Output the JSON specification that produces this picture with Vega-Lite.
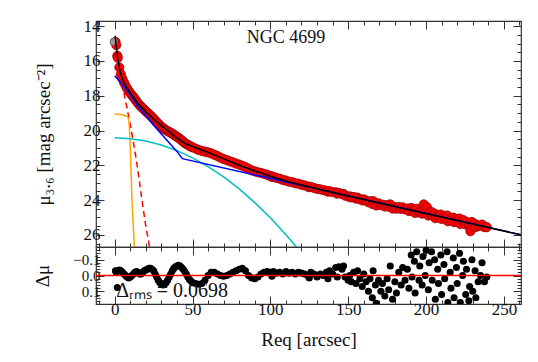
{
"$schema":"https://vega.github.io/schema/vega-lite/v6.json",
"padding":{"left":33,"top":16,"right":16,"bottom":10},
"config":{"view":{"stroke":"#333","strokeWidth":1.2},"font":"Liberation Serif",
"style":{"guide-title":{"font":"Liberation Serif","fontWeight":"normal"},"guide-label":{"font":"Liberation Serif"}},
"axis":{"labelFont":"Liberation Serif","labelFontSize":17,"labelColor":"#111","titleFont":"Liberation Serif","titleFontSize":19,"titleFontWeight":"normal","titleColor":"#111","tickColor":"#333","tickWidth":1,"domain":false,"grid":false,"labelOverlap":false,"labelFlush":false,"labelBound":false,"minExtent":0}},
"datasets":{
"pts":[
{"R":0.5,"mu":14.9,"d":-0.03},{"R":1,"mu":15.08,"d":-0.02},{"R":1.7,"mu":15.7,"d":0.076},{"R":2,"mu":15.82,"d":-0.03},{"R":3,"mu":16.37,"d":-0.035},{"R":4,"mu":16.77,"d":-0.03},{"R":5,"mu":17.03,"d":-0.02},{"R":6,"mu":17.24,"d":-0.01},{"R":7,"mu":17.42,"d":0},{"R":8,"mu":17.58,"d":0.01},{"R":9,"mu":17.72,"d":0.015},{"R":10,"mu":17.84,"d":0.01},{"R":11,"mu":17.96,"d":0},{"R":12,"mu":18.07,"d":-0.01},{"R":13,"mu":18.18,"d":-0.02},{"R":14,"mu":18.31,"d":-0.025},{"R":15,"mu":18.43,"d":-0.02},{"R":16,"mu":18.53,"d":-0.01},{"R":17,"mu":18.63,"d":-0.01},{"R":18,"mu":18.71,"d":-0.02},{"R":19,"mu":18.8,"d":-0.03},{"R":20,"mu":18.89,"d":-0.035},{"R":21,"mu":18.97,"d":-0.04},{"R":22,"mu":19.05,"d":-0.045},{"R":23,"mu":19.14,"d":-0.045},{"R":24,"mu":19.22,"d":-0.04},{"R":25,"mu":19.32,"d":-0.03},{"R":26,"mu":19.41,"d":-0.01},{"R":27,"mu":19.51,"d":0.01},{"R":28,"mu":19.6,"d":0.03},{"R":29,"mu":19.7,"d":0.045},{"R":30,"mu":19.78,"d":0.055},{"R":31,"mu":19.85,"d":0.06},{"R":32,"mu":19.92,"d":0.055},{"R":33,"mu":19.98,"d":0.045},{"R":34,"mu":20.03,"d":0.03},{"R":35,"mu":20.08,"d":0.01},{"R":36,"mu":20.13,"d":-0.01},{"R":37,"mu":20.18,"d":-0.03},{"R":38,"mu":20.24,"d":-0.045},{"R":39,"mu":20.3,"d":-0.055},{"R":40,"mu":20.36,"d":-0.06},{"R":41,"mu":20.42,"d":-0.065},{"R":42,"mu":20.49,"d":-0.06},{"R":43,"mu":20.56,"d":-0.05},{"R":44,"mu":20.64,"d":-0.04},{"R":45,"mu":20.72,"d":-0.025},{"R":46,"mu":20.77,"d":-0.01},{"R":47,"mu":20.82,"d":0.01},{"R":48,"mu":20.88,"d":0.025},{"R":49,"mu":20.92,"d":0.035},{"R":50,"mu":20.97,"d":0.045},
{"R":52,"mu":21.04,"d":0.05},{"R":54,"mu":21.12,"d":0.055},{"R":56,"mu":21.17,"d":0.05},{"R":58,"mu":21.22,"d":0.03},{"R":60,"mu":21.26,"d":0},{"R":62,"mu":21.31,"d":-0.02},{"R":64,"mu":21.39,"d":-0.02},{"R":66,"mu":21.47,"d":-0.01},{"R":68,"mu":21.56,"d":0},{"R":70,"mu":21.64,"d":0.005},{"R":72,"mu":21.7,"d":0},{"R":74,"mu":21.77,"d":-0.01},{"R":76,"mu":21.83,"d":-0.02},{"R":78,"mu":21.9,"d":-0.03},{"R":80,"mu":21.96,"d":-0.04},{"R":82,"mu":22.03,"d":-0.045},{"R":84,"mu":22.1,"d":-0.03},{"R":86,"mu":22.2,"d":0},{"R":88,"mu":22.29,"d":0.015},{"R":90,"mu":22.35,"d":0.02},{"R":92,"mu":22.4,"d":0.01},{"R":94,"mu":22.44,"d":-0.01},{"R":96,"mu":22.49,"d":-0.02},{"R":98,"mu":22.55,"d":-0.025},{"R":100,"mu":22.61,"d":-0.02},{"R":101,"mu":22.67,"d":0.005},{"R":102,"mu":22.66,"d":-0.025},{"R":104,"mu":22.73,"d":-0.015},{"R":106,"mu":22.77,"d":-0.02},{"R":108,"mu":22.84,"d":-0.01},{"R":110,"mu":22.88,"d":-0.025},{"R":112,"mu":22.94,"d":-0.015},{"R":114,"mu":22.97,"d":-0.02},{"R":116,"mu":23.03,"d":-0.01},{"R":118,"mu":23.06,"d":-0.02},{"R":120,"mu":23.12,"d":-0.015},{"R":122,"mu":23.16,"d":-0.01},{"R":124,"mu":23.22,"d":0},{"R":125,"mu":23.26,"d":0.015},{"R":126,"mu":23.24,"d":-0.02},{"R":128,"mu":23.3,"d":-0.01},{"R":130,"mu":23.36,"d":0.01},{"R":132,"mu":23.38,"d":-0.01},{"R":134,"mu":23.43,"d":0},{"R":136,"mu":23.46,"d":-0.02},{"R":137,"mu":23.52,"d":0.02},{"R":138,"mu":23.49,"d":-0.03},{"R":140,"mu":23.55,"d":-0.01},{"R":142,"mu":23.55,"d":-0.05},{"R":143,"mu":23.63,"d":0.01},{"R":144,"mu":23.59,"d":-0.055},{"R":146,"mu":23.65,"d":-0.04},{"R":147,"mu":23.65,"d":-0.06},{"R":148,"mu":23.74,"d":0.01},{"R":150,"mu":23.8,"d":0.03},
{"R":151,"mu":23.79,"d":0},{"R":152,"mu":23.85,"d":0.04},{"R":153.5,"mu":23.82,"d":-0.02},{"R":155,"mu":23.92,"d":0.05},{"R":156,"mu":23.86,"d":-0.03},{"R":157.5,"mu":23.94,"d":0.02},{"R":159,"mu":24.02,"d":0.07},{"R":160,"mu":23.96,"d":-0.01},{"R":161.5,"mu":24.04,"d":0.04},{"R":163,"mu":24.13,"d":0.1},{"R":164,"mu":24.07,"d":0.02},{"R":165.5,"mu":24.22,"d":0.14},{"R":166,"mu":24.06,"d":-0.03},{"R":167.5,"mu":24.18,"d":0.06},{"R":168,"mu":24.31,"d":0.175},{"R":169.5,"mu":24.19,"d":0.03},{"R":171,"mu":24.29,"d":0.1},{"R":172,"mu":24.26,"d":0.05},{"R":173.5,"mu":24.37,"d":0.13},{"R":175,"mu":24.29,"d":0.02},{"R":176,"mu":24.38,"d":0.09},{"R":177,"mu":24.25,"d":-0.06},{"R":178.5,"mu":24.49,"d":0.15},{"R":180,"mu":24.41,"d":0.04},{"R":181,"mu":24.5,"d":0.11},{"R":182.5,"mu":24.4,"d":-0.02},{"R":184,"mu":24.51,"d":0.06},{"R":185,"mu":24.42,"d":-0.05},{"R":186.5,"mu":24.53,"d":0.03},{"R":188,"mu":24.49,"d":-0.04},{"R":189,"mu":24.63,"d":0.08},{"R":190.5,"mu":24.45,"d":-0.13},{"R":191,"mu":24.6,"d":0.01},{"R":192.5,"mu":24.53,"d":-0.09},{"R":193,"mu":24.74,"d":0.11},{"R":194,"mu":24.5,"d":-0.15},{"R":195.5,"mu":24.71,"d":0.03},{"R":196,"mu":24.63,"d":-0.06},{"R":197.5,"mu":24.78,"d":0.06},{"R":198,"mu":24.61,"d":-0.12},{"R":198.5,"mu":24.25,"d":-0.5},{"R":199.5,"mu":24.76,"d":0},{"R":200,"mu":24.61,"d":-0.16},{"R":200.5,"mu":24.4,"d":-0.38},{"R":201.5,"mu":24.89,"d":0.09},{"R":202,"mu":24.73,"d":-0.08},{"R":203.5,"mu":24.69,"d":-0.15},{"R":204,"mu":24.88,"d":0.03},{"R":205.5,"mu":24.78,"d":-0.1},{"R":206,"mu":25.04,"d":0.15},{"R":207.5,"mu":24.88,"d":-0.04},{"R":208,"mu":24.98,"d":0.05},{"R":209.5,"mu":24.83,"d":-0.13},{"R":210,"mu":25.09,"d":0.12},{"R":211.5,"mu":24.93,"d":-0.07},{"R":212,"mu":25.03,"d":0.02},{"R":213.5,"mu":24.89,"d":-0.15},{"R":214,"mu":25.22,"d":0.17},{"R":215.5,"mu":25.06,"d":-0.02},{"R":216,"mu":25.17,"d":0.08},{"R":217.5,"mu":25.01,"d":-0.11},{"R":218,"mu":25.27,"d":0.14},{"R":219.5,"mu":25.11,"d":-0.05},{"R":220,"mu":25.22,"d":0.05},{"R":221.5,"mu":25.06,"d":-0.14},{"R":222,"mu":25.38,"d":0.17},{"R":223.5,"mu":25.24,"d":0},{"R":224,"mu":25.16,"d":-0.09},{"R":225.5,"mu":25.4,"d":0.12},{"R":226,"mu":25.25,"d":-0.04},{"R":227.5,"mu":25.48,"d":0.16},{"R":228,"mu":25.4,"d":0.07},{"R":228.5,"mu":25.79,"d":0.45},{"R":229.5,"mu":25.26,"d":-0.1},{"R":230,"mu":25.47,"d":0.1},{"R":231.5,"mu":25.37,"d":-0.03},{"R":232,"mu":25.55,"d":0.14},{"R":233.5,"mu":25.48,"d":0.04},{"R":235,"mu":25.47,"d":0},{"R":236,"mu":25.41,"d":-0.08},{"R":237.5,"mu":25.56,"d":0.04},{"R":239,"mu":25.56,"d":0.01}
],
"model":[{"R":0.3,"mu":14.55},{"R":1,"mu":15.1},{"R":2,"mu":15.85},{"R":3,"mu":16.4},{"R":4,"mu":16.8},{"R":5,"mu":17.05},{"R":6,"mu":17.25},{"R":7,"mu":17.42},{"R":8,"mu":17.57},{"R":9,"mu":17.7},{"R":10,"mu":17.83},{"R":12,"mu":18.08},{"R":15,"mu":18.45},{"R":20,"mu":18.92},{"R":25,"mu":19.35},{"R":30,"mu":19.72},{"R":35,"mu":20.07},{"R":40,"mu":20.42},{"R":45,"mu":20.74},{"R":50,"mu":20.92},{"R":60,"mu":21.26},{"R":70,"mu":21.63},{"R":80,"mu":22.0},{"R":90,"mu":22.33},{"R":100,"mu":22.63},{"R":110,"mu":22.9},{"R":120,"mu":23.13},{"R":130,"mu":23.35},{"R":150,"mu":23.77},{"R":180,"mu":24.37},{"R":210,"mu":24.97},{"R":240,"mu":25.58},{"R":265,"mu":26.08}],
"blue":[{"R":0,"mu":16.85},{"R":5,"mu":17.35},{"R":10,"mu":17.95},{"R":15,"mu":18.6},{"R":20,"mu":19.15},{"R":25,"mu":19.7},{"R":30,"mu":20.2},{"R":35,"mu":20.7},{"R":40,"mu":21.2},{"R":43.5,"mu":21.62},{"R":265,"mu":26.08}],
"cyan":[{"R":0,"mu":20.42},{"R":10,"mu":20.47},{"R":20,"mu":20.6},{"R":30,"mu":20.83},{"R":40,"mu":21.16},{"R":50,"mu":21.57},{"R":60,"mu":22.08},{"R":70,"mu":22.67},{"R":80,"mu":23.36},{"R":90,"mu":24.15},{"R":100,"mu":25.02},{"R":110,"mu":25.99},{"R":120,"mu":27.04}],
"orange":[{"R":0,"mu":19.05},{"R":4,"mu":19.08},{"R":7,"mu":19.15},{"R":8.6,"mu":19.25},{"R":9.2,"mu":19.5},{"R":9.7,"mu":20.2},{"R":10.1,"mu":21.2},{"R":10.6,"mu":22.6},{"R":11.1,"mu":24.0},{"R":11.9,"mu":25.4},{"R":12.7,"mu":26.7},{"R":13.2,"mu":27.5}],
"dash":[{"R":0,"mu":15.0},{"R":2,"mu":16.1},{"R":4,"mu":17.0},{"R":6,"mu":17.85},{"R":8,"mu":18.75},{"R":10,"mu":19.65},{"R":12,"mu":20.65},{"R":14,"mu":21.75},{"R":16,"mu":23.0},{"R":18,"mu":24.3},{"R":20,"mu":25.5},{"R":22,"mu":26.5},{"R":23,"mu":27.0}]
},
"spacing":0,
"bounds":"flush",
"vconcat":[
{"width":425,"height":226,
"encoding":{"x":{"field":"R","type":"quantitative","scale":{"domain":[-12,261],"nice":false,"zero":false},"axis":null},
"y":{"field":"mu","type":"quantitative","scale":{"domain":[13.7,26.7],"reverse":true,"nice":false,"zero":false},"axis":null}},
"layer":[
{"data":{"name":"pts"},"mark":{"type":"point","shape":"circle","filled":true,"size":85,"fill":"#ff0000","stroke":"#990000","strokeWidth":0.8,"opacity":1,"clip":true},
"encoding":{
"x":{"field":"R","type":"quantitative","scale":{"domain":[-12,261],"nice":false,"zero":false},"axis":{"orient":"bottom","values":[-10,0,10,20,30,40,50,60,70,80,90,100,110,120,130,140,150,160,170,180,190,200,210,220,230,240,250,260],"labels":false,"title":null,"minExtent":0,"tickSize":{"condition":{"test":"datum.value % 50 === 0","value":-8},"value":-4}}},
"y":{"field":"mu","type":"quantitative","scale":{"domain":[13.7,26.7],"reverse":true,"nice":false,"zero":false},"axis":{"orient":"left","title":"μ₃.₆ [mag arcsec⁻²]","titleFont":"Liberation Serif","titlePadding":30,"values":[14,14.5,15,15.5,16,16.5,17,17.5,18,18.5,19,19.5,20,20.5,21,21.5,22,22.5,23,23.5,24,24.5,25,25.5,26,26.5],"format":".0f","labelExpr":"datum.value % 2 === 0 ? datum.label : ''","labelPadding":4,"tickSize":{"condition":{"test":"datum.value % 2 === 0","value":-8},"value":-4}}}}},
{"data":{"values":[{"R":-0.5,"mu":14.9}]},"mark":{"type":"point","shape":"circle","filled":true,"size":60,"fill":"#999999","stroke":"#555555","strokeWidth":0.8,"opacity":1}},
{"data":{"name":"dash"},"mark":{"type":"line","color":"#ff0000","strokeWidth":1.5,"strokeDash":[6,4],"clip":true}},
{"data":{"name":"orange"},"mark":{"type":"line","color":"#ffa500","strokeWidth":1.5,"clip":true}},
{"data":{"name":"cyan"},"mark":{"type":"line","color":"#00bfbf","strokeWidth":1.5,"clip":true}},
{"data":{"name":"blue"},"mark":{"type":"line","color":"#0000ff","strokeWidth":1.5,"clip":true}},
{"data":{"name":"model"},"mark":{"type":"line","color":"#000000","strokeWidth":1.5,"clip":true},
"encoding":{
"x":{"field":"R","type":"quantitative","scale":{"domain":[-12,261],"nice":false,"zero":false},"axis":{"orient":"top","values":[-10,0,10,20,30,40,50,60,70,80,90,100,110,120,130,140,150,160,170,180,190,200,210,220,230,240,250,260],"labels":false,"title":null,"minExtent":0,"tickSize":{"condition":{"test":"datum.value % 50 === 0","value":-8},"value":-4}}},
"y":{"field":"mu","type":"quantitative","scale":{"domain":[13.7,26.7],"reverse":true,"nice":false,"zero":false},"axis":{"orient":"right","title":null,"labels":false,"minExtent":0,"values":[14,14.5,15,15.5,16,16.5,17,17.5,18,18.5,19,19.5,20,20.5,21,21.5,22,22.5,23,23.5,24,24.5,25,25.5,26,26.5],"tickSize":{"condition":{"test":"datum.value % 2 === 0","value":-8},"value":-4}}}}},
{"data":{"values":[{"R":110,"mu":14.65,"t":"NGC 4699"}]},"mark":{"type":"text","font":"Liberation Serif","fontSize":18,"align":"center","baseline":"middle","color":"#111"},"encoding":{"text":{"field":"t"}}}
],
"resolve":{"axis":{"x":"independent","y":"independent"}}},
{"width":425,"height":57,
"layer":[
{"data":{"name":"pts"},"mark":{"type":"circle","size":50,"color":"#000000","opacity":1,"clip":true},
"encoding":{
"x":{"field":"R","type":"quantitative","scale":{"domain":[-12,261],"nice":false,"zero":false},"axis":{"orient":"bottom","title":"Req [arcsec]","titleFont":"Liberation Serif","titlePadding":9,"values":[-10,0,10,20,30,40,50,60,70,80,90,100,110,120,130,140,150,160,170,180,190,200,210,220,230,240,250,260],"labelExpr":"datum.value % 50 === 0 ? datum.label : ''","labelPadding":5,"tickSize":{"condition":{"test":"datum.value % 50 === 0","value":-8},"value":-4}}},
"y":{"field":"d","type":"quantitative","scale":{"domain":[-0.18,0.18],"reverse":true,"nice":false,"zero":false},"axis":{"orient":"left","title":"Δμ","titleFont":"Liberation Serif","titlePadding":20,"labelFontSize":15,"values":[-0.16,-0.14,-0.12,-0.1,-0.08,-0.06,-0.04,-0.02,0,0.02,0.04,0.06,0.08,0.1,0.12,0.14,0.16],"format":".1f","labelExpr":"abs(round(datum.value*100)) % 10 === 0 ? datum.label : ''","labelPadding":4,"tickSize":{"condition":{"test":"abs(round(datum.value*100)) % 10 === 0","value":-8},"value":-4}}}}},
{"data":{"values":[{"d":0}]},"mark":{"type":"rule","color":"#ff0000","strokeWidth":1.5},
"encoding":{"y":{"field":"d","type":"quantitative","scale":{"domain":[-0.18,0.18],"reverse":true,"nice":false,"zero":false},"axis":null}}},
{"data":{"name":"pts"},"mark":{"type":"point","opacity":0,"clip":true},
"encoding":{
"x":{"field":"R","type":"quantitative","scale":{"domain":[-12,261],"nice":false,"zero":false},"axis":{"orient":"top","title":null,"labels":false,"minExtent":0,"values":[-10,0,10,20,30,40,50,60,70,80,90,100,110,120,130,140,150,160,170,180,190,200,210,220,230,240,250,260],"tickSize":{"condition":{"test":"datum.value % 50 === 0","value":-8},"value":-4}}},
"y":{"field":"d","type":"quantitative","scale":{"domain":[-0.18,0.18],"reverse":true,"nice":false,"zero":false},"axis":{"orient":"right","title":null,"labels":false,"minExtent":0,"values":[-0.16,-0.14,-0.12,-0.1,-0.08,-0.06,-0.04,-0.02,0,0.02,0.04,0.06,0.08,0.1,0.12,0.14,0.16],"tickSize":{"condition":{"test":"abs(round(datum.value*100)) % 10 === 0","value":-8},"value":-4}}}}},
{"data":{"values":[{"R":1,"d":0.095,"t":"Δᵣₘₛ = 0.0698"}]},"mark":{"type":"text","font":"Liberation Serif","fontSize":20,"align":"left","baseline":"middle","color":"#111"},
"encoding":{"x":{"field":"R","type":"quantitative","scale":{"domain":[-12,261],"nice":false,"zero":false},"axis":null},"y":{"field":"d","type":"quantitative","scale":{"domain":[-0.18,0.18],"reverse":true,"nice":false,"zero":false},"axis":null},"text":{"field":"t"}}}
],
"resolve":{"axis":{"x":"independent","y":"independent"}}}
]
}
